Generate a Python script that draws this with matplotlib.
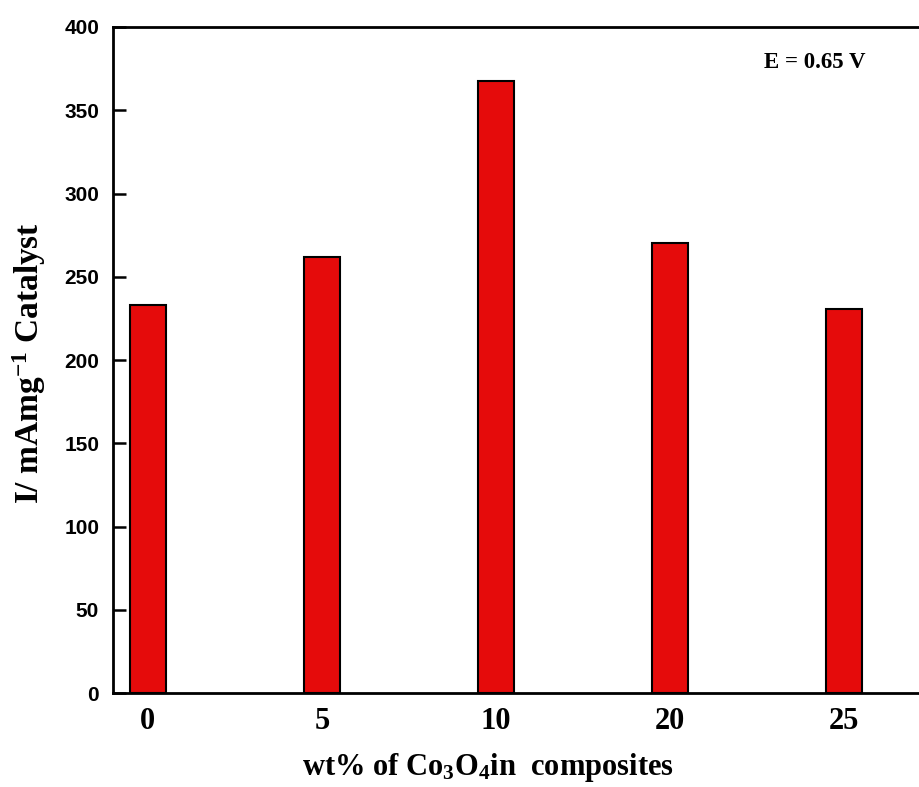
import matplotlib
matplotlib.use('Agg')
from matplotlib import pyplot as plt

# data
loadings = ['0', '5', '10', '20', '25']
current = [233, 262, 367.5, 270, 230.5]

plt.rcParams['mathtext.default'] = 'regular'

fig = plt.figure(figsize=(9.19, 7.87), dpi=100)
ax = fig.add_axes([0.123, 0.1194, 0.89, 0.8463])

x = range(len(loadings))
ax.bar(x, current, width=0.205, color='#e50b0b', edgecolor='black', linewidth=1.5)

ax.set_xlim(-0.2, 4.5)
ax.set_ylim(0, 400)
ax.set_yticks(range(0, 401, 50))
ax.set_xticks(list(x))
ax.set_xticklabels(loadings, family='Liberation Serif', fontweight='bold', fontsize=22)
for lab in ax.get_yticklabels():
    lab.set_family('Liberation Sans')
    lab.set_fontweight('bold')
    lab.set_fontsize(15)

ax.tick_params(axis='y', direction='in', length=9.5, width=1.8, pad=10)
ax.tick_params(axis='x', length=0, pad=10)

for side in ['left', 'top', 'bottom']:
    ax.spines[side].set_linewidth(2)
ax.spines['right'].set_visible(False)

# axis titles
fig.text(29 / 919, 1 - 363 / 787, 'I/ mAmg$^{-1}$ Catalyst', family='Liberation Serif',
         fontweight='bold', fontsize=24, rotation=90, ha='center', va='center')
fig.text(488 / 919, 1 - 767 / 787, 'wt% of Co$_3$O$_4$in  composites',
         family='Liberation Serif', fontweight='bold', fontsize=22,
         ha='center', va='center')

fig.text(815 / 919, 1 - 62 / 787, 'E = 0.65 V', family='Liberation Serif',
         fontweight='bold', fontsize=16.5, ha='center', va='center')

fig.savefig('out.png', dpi=100)
